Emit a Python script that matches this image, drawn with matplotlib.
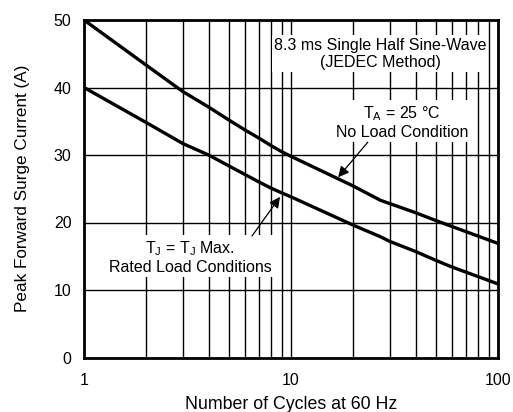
import numpy as np
import matplotlib.pyplot as plt

plt.rcParams['font.family'] = ['Liberation Sans', 'DejaVu Sans']

# no load curve, T_A = 25 C
cycles_noload = [1, 2, 3, 4, 5, 6, 7, 8, 9, 10, 20, 27, 30, 40, 50, 60, 100]
current_noload = [50, 43.3, 39.4, 37.1, 35.2, 33.7, 32.5, 31.4, 30.5, 29.8,
                  25.4, 23.3, 22.8, 21.45, 20.3, 19.4, 16.9]

# rated load curve, T_J = T_J max
cycles_rated = [1, 2, 3, 4, 5, 6, 7, 8, 9, 10, 20, 27, 30, 40, 50, 60, 100]
current_rated = [40, 34.8, 31.7, 30.0, 28.4, 27.1, 26.0, 25.1, 24.4, 23.8,
                 19.6, 17.9, 17.2, 15.7, 14.4, 13.4, 10.9]

fig = plt.figure(figsize=(5.13, 4.12), dpi=100)
ax = fig.add_axes([84 / 513, 1 - 357.5 / 412, 414 / 513, 337.5 / 412])

ax.set_xscale('log')
ax.set_xlim(1, 100)
ax.set_ylim(0, 50)
ax.set_yticks([0, 10, 20, 30, 40, 50])
ax.set_xticks([1, 10, 100])
ax.set_xticklabels(['1', '10', '100'])
ax.xaxis.set_minor_formatter(plt.NullFormatter())
ax.tick_params(which='both', length=0, labelsize=11.5, pad=9)
ax.tick_params(axis='x', pad=11)

ax.grid(True, which='both', axis='x', color='black', lw=1.0)
ax.grid(True, which='major', axis='y', color='black', lw=1.0)
for s in ax.spines.values():
    s.set_linewidth(2.0)

ax.plot(cycles_noload, current_noload, color='black', lw=2.4, zorder=3)
ax.plot(cycles_rated, current_rated, color='black', lw=2.4, zorder=3)

bbox = dict(facecolor='white', edgecolor='none', pad=1.5)
ax.text(26.9, 45.0, '8.3 ms Single Half Sine-Wave\n(JEDEC Method)',
        ha='center', va='center', fontsize=11.5, linespacing=1.2,
        bbox=bbox, zorder=4)
ax.text(34.4, 34.9, 'T$_\\mathregular{A}$ = 25 °C\nNo Load Condition',
        ha='center', va='center', fontsize=11.5, linespacing=1.2,
        bbox=bbox, zorder=4)
ax.text(3.25, 14.9, 'T$_\\mathregular{J}$ = T$_\\mathregular{J}$ Max.\nRated Load Conditions',
        ha='center', va='center', fontsize=11.5, linespacing=1.2,
        bbox=bbox, zorder=4)

arrow = dict(arrowstyle='-|>', color='black', lw=0.9, mutation_scale=16,
             shrinkA=0, shrinkB=0)
ax.annotate('', xy=(16.9, 26.7), xytext=(23.5, 31.9), arrowprops=arrow, zorder=5)
ax.annotate('', xy=(8.85, 23.8), xytext=(6.48, 18.0), arrowprops=arrow, zorder=5)

ax.set_xlabel('Number of Cycles at 60 Hz', fontsize=12.8, labelpad=6)
ax.set_ylabel('Peak Forward Surge Current (A)', fontsize=12.3, labelpad=17)

fig.savefig('out.png', dpi=100)
